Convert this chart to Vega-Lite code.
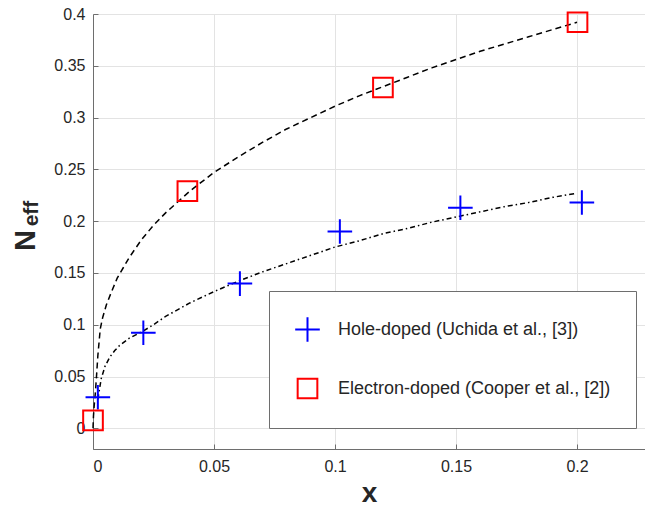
{
  "$schema": "https://vega.github.io/schema/vega-lite/v6.json",
  "width": 553,
  "height": 435,
  "autosize": {"type": "none"},
  "padding": {"left": 93, "top": 14, "right": 0, "bottom": 58},
  "config": {
    "view": {"stroke": null},
    "font": "Liberation Sans",
    "axis": {
      "labelFont": "Liberation Sans",
      "labelFontSize": 16,
      "labelColor": "#262626",
      "domainColor": "#6e6e6e",
      "tickColor": "#6e6e6e",
      "gridColor": "#e3e3e3",
      "tickSize": -5,
      "titleFont": "Liberation Sans",
      "titleColor": "#262626",
      "titleFontWeight": "bold"
    },
    "legend": {
      "orient": "none",
      "legendX": 176,
      "legendY": 277,
      "padding": 25,
      "strokeColor": "#6e6e6e",
      "fillColor": "#ffffff",
      "rowPadding": 28,
      "labelFont": "Liberation Sans",
      "labelFontSize": 18,
      "labelColor": "#262626",
      "labelOffset": 17,
      "labelLimit": 400,
      "symbolSize": 605,
      "symbolStrokeWidth": 2,
      "symbolOpacity": 1
    }
  },
  "datasets": {
    "points": [
      {"x": 0.002, "n": 0.030, "series": "Hole-doped (Uchida et al., [3])"},
      {"x": 0.0208, "n": 0.0923, "series": "Hole-doped (Uchida et al., [3])"},
      {"x": 0.0607, "n": 0.1397, "series": "Hole-doped (Uchida et al., [3])"},
      {"x": 0.102, "n": 0.190, "series": "Hole-doped (Uchida et al., [3])"},
      {"x": 0.1518, "n": 0.213, "series": "Hole-doped (Uchida et al., [3])"},
      {"x": 0.202, "n": 0.218, "series": "Hole-doped (Uchida et al., [3])"},
      {"x": 0.0, "n": 0.0077, "series": "Electron-doped (Cooper et al., [2])"},
      {"x": 0.039, "n": 0.229, "series": "Electron-doped (Cooper et al., [2])"},
      {"x": 0.1198, "n": 0.329, "series": "Electron-doped (Cooper et al., [2])"},
      {"x": 0.2002, "n": 0.392, "series": "Electron-doped (Cooper et al., [2])"}
    ],
    "fitE": [
      {"x": 0, "n": 0}, {"x": 0.0002, "n": 0.012}, {"x": 0.0005, "n": 0.022}, {"x": 0.001, "n": 0.035},
      {"x": 0.0015, "n": 0.052}, {"x": 0.002, "n": 0.07}, {"x": 0.003, "n": 0.096}, {"x": 0.004, "n": 0.107},
      {"x": 0.0055, "n": 0.119}, {"x": 0.0075, "n": 0.131}, {"x": 0.01, "n": 0.145}, {"x": 0.0125, "n": 0.155},
      {"x": 0.015, "n": 0.165}, {"x": 0.02, "n": 0.182}, {"x": 0.025, "n": 0.196}, {"x": 0.03, "n": 0.208},
      {"x": 0.04, "n": 0.229}, {"x": 0.05, "n": 0.247}, {"x": 0.06, "n": 0.262}, {"x": 0.07, "n": 0.276},
      {"x": 0.08, "n": 0.289}, {"x": 0.09, "n": 0.300}, {"x": 0.10, "n": 0.311}, {"x": 0.11, "n": 0.321},
      {"x": 0.12, "n": 0.330}, {"x": 0.13, "n": 0.339}, {"x": 0.14, "n": 0.348}, {"x": 0.15, "n": 0.356},
      {"x": 0.16, "n": 0.364}, {"x": 0.17, "n": 0.371}, {"x": 0.18, "n": 0.378}, {"x": 0.19, "n": 0.385},
      {"x": 0.20, "n": 0.392}
    ],
    "fitH": [
      {"x": 0.002, "n": 0.028}, {"x": 0.0034, "n": 0.048}, {"x": 0.005, "n": 0.06}, {"x": 0.007, "n": 0.069},
      {"x": 0.009, "n": 0.075}, {"x": 0.011, "n": 0.080}, {"x": 0.015, "n": 0.087}, {"x": 0.0208, "n": 0.094},
      {"x": 0.025, "n": 0.100}, {"x": 0.03, "n": 0.108}, {"x": 0.04, "n": 0.121}, {"x": 0.05, "n": 0.132},
      {"x": 0.06, "n": 0.142}, {"x": 0.07, "n": 0.151}, {"x": 0.08, "n": 0.159}, {"x": 0.09, "n": 0.167},
      {"x": 0.10, "n": 0.175}, {"x": 0.11, "n": 0.181}, {"x": 0.12, "n": 0.188}, {"x": 0.13, "n": 0.193},
      {"x": 0.14, "n": 0.199}, {"x": 0.15, "n": 0.204}, {"x": 0.16, "n": 0.209}, {"x": 0.17, "n": 0.214},
      {"x": 0.18, "n": 0.218}, {"x": 0.19, "n": 0.223}, {"x": 0.20, "n": 0.227}
    ]
  },
  "encoding": {
    "x": {
      "field": "x",
      "type": "quantitative",
      "scale": {"domain": [0, 0.2285], "nice": false, "zero": false},
      "axis": {
        "values": [0, 0.05, 0.1, 0.15, 0.2],
        "format": "~g",
        "labelPadding": 14,
        "title": "x",
        "titleFontSize": 28,
        "titleX": 276,
        "titleY": 52,
        "titleAlign": "center",
        "titleBaseline": "alphabetic"
      }
    }
  },
  "layer": [
    {
      "data": {"name": "fitE"},
      "mark": {"type": "line", "color": "#000000", "strokeWidth": 1.5, "strokeDash": [6, 4]},
      "encoding": {
        "y": {
          "field": "n",
          "type": "quantitative",
          "scale": {"domain": [-0.02, 0.4], "nice": false, "zero": false},
          "axis": {
            "values": [0, 0.05, 0.1, 0.15, 0.2, 0.25, 0.3, 0.35, 0.4],
            "format": "~g",
            "labelPadding": 13,
            "title": "N",
            "titleFontSize": 29,
            "titleAngle": 270,
            "titleX": -59,
            "titleY": 226,
            "titleAlign": "center",
            "titleBaseline": "alphabetic"
          }
        }
      }
    },
    {
      "data": {"name": "fitH"},
      "mark": {"type": "line", "color": "#000000", "strokeWidth": 1.5, "strokeDash": [5, 3, 1.5, 3]},
      "encoding": {
        "y": {
          "field": "n",
          "type": "quantitative",
          "scale": {"domain": [-0.02, 0.4], "nice": false, "zero": false},
          "axis": {
            "orient": "right",
            "domain": false,
            "ticks": false,
            "labels": false,
            "grid": false,
            "title": "eff",
            "titleFontSize": 21,
            "titleAngle": 270,
            "titleX": -609,
            "titleY": 199,
            "titleAlign": "center",
            "titleBaseline": "alphabetic"
          }
        }
      }
    },
    {
      "data": {"name": "points"},
      "mark": {"type": "point", "filled": false, "strokeWidth": 2, "size": 605, "opacity": 1},
      "encoding": {
        "y": {
          "field": "n",
          "type": "quantitative",
          "scale": {"domain": [-0.02, 0.4], "nice": false, "zero": false},
          "axis": null
        },
        "color": {
          "field": "series",
          "type": "nominal",
          "scale": {
            "domain": ["Hole-doped (Uchida et al., [3])", "Electron-doped (Cooper et al., [2])"],
            "range": ["#0000ff", "#ff0000"]
          },
          "legend": {"title": null}
        },
        "shape": {
          "field": "series",
          "type": "nominal",
          "scale": {
            "domain": ["Hole-doped (Uchida et al., [3])", "Electron-doped (Cooper et al., [2])"],
            "range": ["M-1,0L1,0M0,-1L0,1", "M-0.8,-0.8L0.8,-0.8L0.8,0.8L-0.8,0.8Z"]
          },
          "legend": {"title": null}
        }
      }
    }
  ],
  "resolve": {"scale": {"y": "independent"}}
}
